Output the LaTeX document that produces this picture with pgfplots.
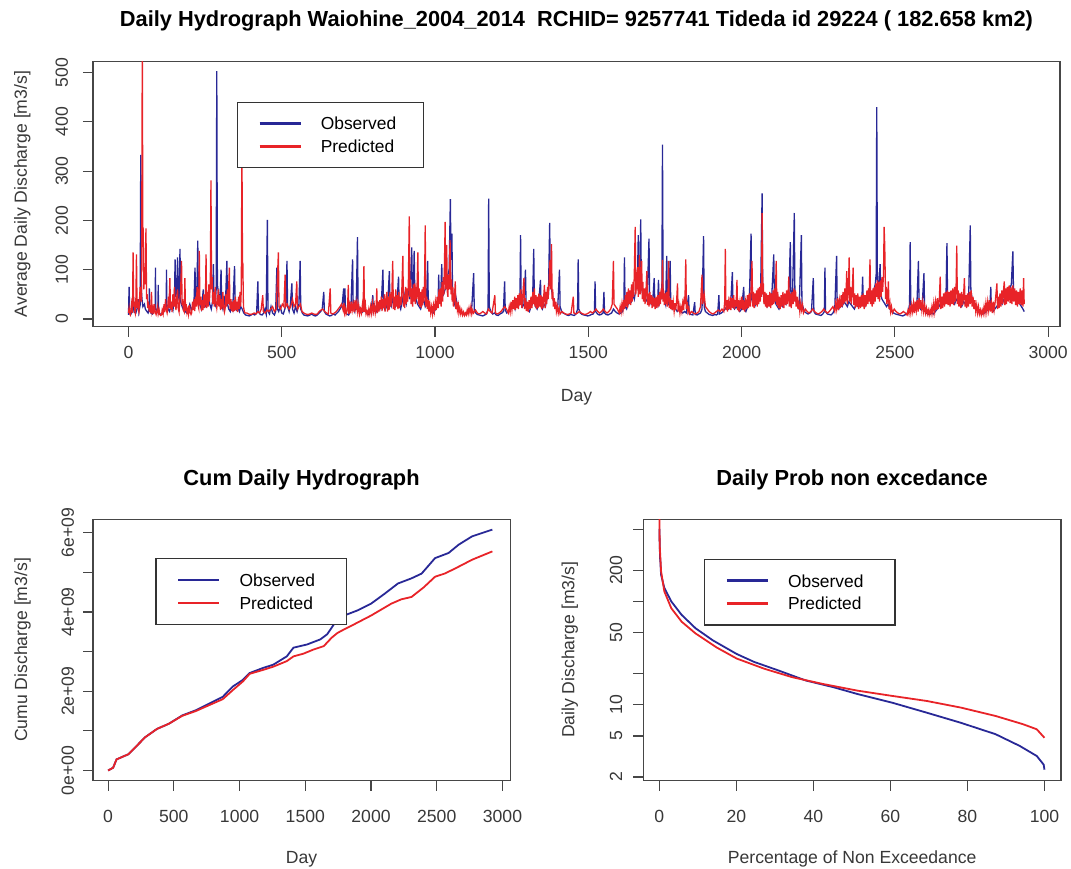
\documentclass[border=0pt]{standalone}
\usepackage{fontspec}
\setmainfont{Liberation Sans}
\usepackage{pgfplots}
\pgfplotsset{compat=1.18}
\definecolor{obs}{RGB}{40,40,150}
\definecolor{pred}{RGB}{232,35,40}
\definecolor{frame}{RGB}{70,70,70}
\pgfplotsset{
  rpanel/.style={
    scale only axis, anchor=south west,
    axis line style={draw=frame, line width=0.6pt},
    tick style={draw=frame, line width=0.6pt},
    tick align=outside, major tick length=5pt,
    xtick pos=left, ytick pos=left,
    /pgf/number format/assume math mode=true,
    /pgf/number format/1000 sep={},
    ticklabel style={font=\fontsize{8.8}{10}\selectfont, text=black!78},
    label style={font=\fontsize{8.8}{10}\selectfont, text=black!78},
    title style={font=\fontsize{10.9}{12}\selectfont\bfseries, anchor=base},
    legend image code/.code={\draw[#1, line width=1.3pt] (0pt,0pt) -- (20.5pt,0pt);},
    legend style={anchor=north west, draw=black!80, line width=0.6pt, fill=white,
      inner xsep=10.5pt, inner ysep=5pt, row sep=0pt,
      font=\fontsize{8.7}{10}\selectfont,
      nodes={inner sep=0pt, minimum height=11.4pt, text depth=0pt},
      /tikz/every odd column/.append style={column sep=9.5pt}},
    legend cell align=left,
  }
}
\begin{document}
\begin{tikzpicture}
\path[use as bounding box] (0,0) rectangle (535.5pt,434pt);
% ---------------- top hydrograph ----------------
\begin{axis}[rpanel,
  at={(46.5pt,270.6pt)}, width=483.5pt, height=132.75pt,
  xmin=-115.8, xmax=3038.8, ymin=-16, ymax=523,
  xtick={0,500,1000,1500,2000,2500,3000}, ytick={0,100,200,300,400,500},
  xticklabel style={yshift=-1pt},
  yticklabel style={xshift=-4pt, rotate=90, anchor=south},
  title={Daily Hydrograph Waiohine\_2004\_2014\ \ RCHID= 9257741 Tideda id 29224 ( 182.658 km2)},
  title style={at={(axis description cs:0.5,1.085)}, anchor=base},
  xlabel={Day}, xlabel style={at={(axis description cs:0.5,-0.282)}, anchor=base},
  ylabel={Average Daily Discharge [m3/s]},
  ylabel style={at={(axis description cs:-0.0683,0.5)}, rotate=0, anchor=base},
  legend style={at={(0.1485,0.8485)}},
]
\addplot[obs, line width=0.65pt] coordinates {
(0,8) (2,65) (4,12) (8,10) (14,20) (16,45) (18,14) (24,12) (30,25) (32,40) (34,15) (38,28) (40,333) (42,60) (44,40) (47,25) (52,30) (55,20) (60,15) (64,12) (67,20) (68,62) (69,18) (73,12) (78,10) (82,15) (87,20) (88,104) (89,22) (93,14) (96,20) (97,69) (98,15) (103,10) (108,9) (113,12) (118,18) (123,25) (124,100) (125,30) (129,20) (134,15) (140,30) (145,18) (150,40) (152,121) (154,45) (158,60) (160,125) (162,50) (165,40) (168,142) (170,35) (175,25) (180,18) (185,15) (190,12) (195,20) (200,30) (205,18) (210,25) (214,40) (217,104) (219,35) (223,50) (226,159) (228,40) (232,30) (238,20) (244,60) (246,35) (250,25) (255,30) (260,45) (265,30) (270,20) (274,35) (277,111) (279,40) (283,30) (286,60) (288,503) (290,70) (294,50) (298,30) (302,100) (304,30) (308,20) (313,40) (316,25) (321,118) (323,30) (327,20) (332,15) (336,30) (340,20) (346,107) (348,25) (352,18) (357,22) (362,15) (366,25) (371,20) (376,12) (382,8) (388,7) (394,6) (400,8) (406,10) (412,8) (418,12) (422,76) (424,14) (430,9) (436,8) (441,12) (445,20) (449,10) (453,201) (455,15) (460,10) (465,25) (470,12) (476,8) (480,15) (484,104) (486,20) (490,15) (495,25) (500,12) (505,10) (510,20) (514,35) (517,118) (519,25) (524,15) (528,30) (533,72) (535,20) (540,12) (545,25) (550,15) (556,30) (560,118) (562,20) (567,12) (572,8) (578,7) (585,6) (592,8) (598,10) (604,7) (610,6) (616,8) (622,12) (627,15) (632,20) (637,55) (639,15) (644,10) (650,8) (656,6) (662,7) (668,10) (674,8) (680,12) (685,15) (690,20) (695,25) (698,35) (702,62) (704,20) (706,62) (708,15) (712,10) (718,8) (722,12) (726,30) (731,121) (733,25) (738,15) (743,30) (747,166) (749,30) (754,18) (760,12) (765,15) (770,20) (776,12) (782,9) (787,12) (792,20) (797,48) (799,15) (804,25) (810,15) (815,30) (820,20) (825,35) (830,100) (832,25) (837,18) (842,25) (846,35) (851,97) (853,30) (857,25) (862,40) (866,30) (871,25) (876,35) (881,86) (883,30) (888,20) (893,35) (898,55) (902,40) (906,30) (910,45) (914,60) (918,40) (924,145) (926,60) (929,50) (932,138) (934,50) (938,40) (943,30) (948,25) (953,20) (958,30) (963,40) (968,25) (972,30) (976,118) (978,30) (983,20) (988,15) (994,12) (1000,18) (1005,25) (1010,35) (1012,90) (1014,35) (1018,40) (1022,111) (1024,45) (1028,50) (1033,60) (1038,80) (1042,90) (1046,100) (1050,243) (1052,120) (1055,173) (1057,60) (1060,40) (1064,30) (1068,45) (1072,30) (1077,20) (1082,15) (1087,12) (1092,10) (1098,9) (1104,12) (1110,20) (1115,15) (1120,25) (1126,93) (1128,20) (1133,12) (1138,9) (1144,8) (1150,7) (1156,6) (1162,8) (1168,10) (1173,20) (1175,244) (1177,25) (1182,15) (1188,10) (1194,12) (1200,8) (1206,7) (1212,10) (1218,12) (1223,15) (1227,76) (1229,18) (1234,12) (1240,15) (1246,20) (1251,25) (1256,30) (1261,20) (1266,35) (1272,25) (1277,40) (1279,170) (1281,40) (1286,25) (1290,30) (1295,100) (1297,30) (1302,20) (1308,15) (1313,25) (1318,30) (1322,142) (1324,35) (1328,25) (1333,20) (1338,30) (1344,79) (1346,25) (1350,20) (1355,30) (1360,25) (1365,40) (1370,50) (1374,195) (1376,80) (1380,60) (1385,40) (1390,30) (1395,25) (1400,20) (1406,100) (1408,25) (1413,15) (1418,12) (1424,10) (1430,8) (1436,7) (1442,9) (1448,8) (1454,7) (1460,10) (1465,20) (1467,121) (1469,20) (1474,12) (1480,9) (1486,8) (1492,7) (1498,6) (1504,7) (1510,9) (1516,10) (1520,15) (1522,76) (1524,15) (1530,10) (1536,8) (1542,9) (1548,12) (1551,55) (1553,12) (1558,9) (1564,8) (1570,10) (1576,12) (1582,20) (1588,15) (1594,12) (1600,10) (1606,12) (1612,15) (1616,30) (1618,125) (1620,25) (1625,20) (1630,30) (1635,40) (1640,35) (1645,50) (1650,40) (1655,60) (1660,70) (1663,170) (1665,60) (1668,80) (1671,202) (1673,70) (1677,50) (1682,40) (1687,35) (1692,40) (1698,163) (1700,40) (1705,30) (1710,35) (1715,83) (1717,30) (1722,25) (1726,30) (1729,79) (1731,30) (1736,40) (1740,60) (1742,354) (1744,60) (1748,40) (1752,30) (1756,128) (1758,35) (1762,30) (1767,118) (1769,30) (1774,20) (1779,25) (1785,20) (1790,15) (1796,20) (1802,15) (1808,12) (1814,15) (1820,12) (1827,48) (1829,10) (1835,9) (1841,8) (1847,34) (1849,9) (1855,8) (1860,10) (1866,12) (1871,20) (1876,168) (1878,25) (1882,15) (1888,12) (1894,9) (1900,8) (1906,7) (1912,9) (1918,8) (1922,10) (1926,48) (1928,10) (1934,12) (1940,15) (1946,20) (1952,25) (1958,20) (1964,25) (1970,95) (1972,25) (1977,20) (1982,25) (1988,20) (1994,15) (2000,20) (2007,65) (2009,20) (2014,15) (2020,25) (2025,30) (2031,173) (2033,40) (2038,30) (2043,25) (2048,35) (2052,30) (2057,40) (2062,50) (2067,255) (2069,60) (2073,40) (2078,30) (2083,25) (2088,35) (2093,30) (2098,40) (2105,131) (2107,40) (2112,30) (2117,25) (2122,20) (2128,30) (2134,25) (2140,35) (2145,30) (2150,45) (2154,40) (2159,156) (2161,50) (2166,40) (2172,215) (2174,50) (2178,35) (2183,25) (2188,20) (2195,170) (2197,30) (2200,25) (2205,15) (2211,12) (2217,10) (2223,12) (2228,15) (2234,83) (2236,15) (2241,10) (2247,9) (2253,8) (2259,7) (2265,10) (2270,15) (2272,104) (2274,15) (2280,10) (2286,9) (2292,8) (2298,12) (2304,20) (2310,128) (2312,25) (2317,20) (2322,30) (2328,25) (2334,35) (2340,30) (2345,25) (2350,35) (2356,30) (2362,25) (2368,20) (2374,30) (2380,25) (2386,35) (2392,30) (2395,86) (2397,30) (2402,25) (2408,35) (2414,40) (2420,50) (2425,45) (2430,55) (2436,70) (2439,90) (2441,430) (2443,80) (2447,60) (2452,111) (2454,50) (2458,40) (2463,35) (2468,30) (2473,25) (2478,30) (2484,20) (2490,15) (2496,12) (2502,10) (2508,9) (2514,8) (2520,7) (2526,6) (2532,8) (2538,10) (2544,15) (2548,30) (2550,156) (2552,30) (2557,20) (2562,25) (2567,20) (2572,30) (2577,118) (2579,30) (2584,20) (2589,25) (2595,93) (2597,20) (2602,12) (2608,10) (2614,9) (2620,12) (2626,10) (2632,15) (2638,20) (2644,25) (2648,30) (2652,25) (2657,30) (2662,40) (2667,50) (2670,154) (2672,40) (2676,35) (2680,30) (2685,40) (2690,35) (2695,30) (2700,40) (2706,35) (2712,30) (2718,25) (2724,35) (2730,30) (2736,40) (2741,50) (2746,190) (2748,60) (2752,40) (2757,30) (2762,25) (2768,20) (2774,15) (2780,12) (2786,10) (2792,12) (2798,15) (2804,20) (2810,25) (2813,65) (2815,20) (2820,15) (2826,20) (2832,25) (2838,30) (2844,35) (2850,30) (2856,40) (2862,45) (2868,50) (2874,60) (2880,70) (2885,137) (2887,60) (2892,50) (2897,40) (2902,35) (2908,30) (2913,25) (2918,20) (2922,15)
};
\addlegendentry{\makebox[41pt][l]{Observed}}
\addplot[pred, line width=0.65pt] coordinates {
(0,12) (2,22) (4,10) (6,8) (8,18) (10,30) (12,20) (13,12) (15,135) (17,25) (19,35) (21,15) (22,12) (24,35) (26,131) (28,22) (30,40) (32,18) (34,14) (36,40) (38,65) (40,50) (42,35) (43,120) (45,560) (47,150) (48,184) (50,60) (52,95) (54,70) (57,184) (59,40) (61,50) (63,22) (65,35) (68,15) (70,28) (72,12) (75,55) (77,14) (80,22) (82,10) (85,30) (87,15) (90,9) (92,14) (95,25) (97,10) (100,18) (102,9) (105,7) (108,9) (110,18) (113,10) (116,30) (118,14) (121,40) (123,20) (126,12) (128,20) (130,45) (132,22) (135,83) (137,20) (140,35) (142,14) (145,50) (148,25) (150,65) (152,35) (155,18) (157,40) (160,60) (162,22) (165,14) (167,35) (170,55) (173,118) (175,28) (177,40) (179,18) (182,14) (184,83) (186,16) (188,30) (191,12) (194,20) (196,10) (199,28) (201,14) (204,9) (206,12) (209,35) (211,18) (214,40) (216,16) (219,45) (221,25) (224,65) (226,30) (229,22) (231,138) (233,28) (236,45) (238,16) (241,38) (243,18) (246,50) (248,22) (251,40) (253,131) (255,22) (258,55) (260,25) (262,70) (264,35) (267,75) (269,281) (271,60) (273,85) (275,30) (278,55) (280,25) (283,65) (285,35) (288,22) (290,35) (293,60) (295,25) (298,48) (300,18) (303,40) (305,20) (308,55) (310,28) (313,14) (315,20) (318,50) (320,25) (323,60) (325,30) (329,104) (331,20) (334,40) (336,16) (339,35) (341,14) (344,38) (346,16) (349,45) (351,18) (354,35) (356,14) (359,45) (361,20) (364,55) (366,25) (368,60) (370,354) (372,100) (373,114) (375,25) (378,15) (380,12)
(386,12) (392,10) (398,9) (404,10) (410,12) (416,10) (422,15) (428,12) (433,20) (438,48) (440,15) (446,12) (452,18) (458,15) (464,20) (470,25) (476,15) (482,20) (489,135) (491,25) (496,20) (502,30) (507,25) (511,90) (513,25) (518,30) (524,20) (529,25) (535,40) (540,25) (545,30) (549,76) (551,20) (556,25) (561,30) (566,15) (572,12) (578,10) (585,9) (592,10) (598,12) (604,10) (610,9) (616,10) (622,15) (628,18) (634,20) (640,15) (646,12) (652,10) (658,62) (660,12) (666,10) (672,12) (678,15) (684,20) (690,25) (695,30)
(700,18) (703,32) (705,12) (708,20) (710,10) (713,16) (715,28) (717,69) (719,10) (722,25) (724,12) (727,35) (730,18) (733,30) (736,14) (739,38) (742,20) (745,35) (748,14) (751,28) (754,10) (757,20) (760,12) (763,28) (765,14) (768,107) (770,14) (773,28) (775,10) (778,16) (781,8) (784,20) (787,10) (790,25) (793,12) (796,32) (799,15) (802,28) (805,12) (808,25) (810,62) (812,12) (815,35) (817,15) (820,38) (822,20) (825,45) (827,16) (830,40) (832,22) (835,50) (837,15) (840,38) (843,55) (845,15) (848,45) (850,18) (853,55) (856,25) (859,48) (862,118) (864,20) (867,45) (869,18) (872,60) (874,25) (877,48) (879,20) (882,55) (884,22) (887,45) (889,28) (892,65) (895,128) (897,25) (899,50) (901,22) (904,65) (906,30) (909,62) (911,35) (913,75) (916,208) (918,45) (920,80) (922,30) (925,62) (927,25) (929,70) (931,35) (934,72) (936,30) (938,65) (940,40) (942,80) (944,135) (946,30) (948,62) (950,25) (953,55) (955,22) (958,60) (960,28) (962,65) (964,35) (966,80) (968,190) (970,25) (973,45) (975,20) (978,38) (980,15) (983,30) (986,12) (989,25) (992,10) (995,28) (998,15) (1001,35) (1004,18) (1007,45) (1010,22) (1013,60) (1015,30) (1018,62) (1020,25) (1023,75) (1025,35) (1027,85) (1029,50) (1031,120) (1033,197) (1035,60) (1038,150) (1040,55) (1042,45) (1044,90) (1046,60) (1049,160) (1052,50) (1054,80) (1056,35) (1058,65) (1060,25) (1063,40) (1066,76) (1068,20) (1071,35) (1073,18) (1076,28) (1078,12) (1081,22) (1084,10) (1087,18) (1090,8) (1093,14) (1096,7) (1099,12) (1102,8) (1105,18) (1108,10) (1111,22) (1114,12) (1117,25) (1120,10) (1123,18) (1126,12)
(1132,18) (1138,12) (1144,10) (1150,12) (1156,15) (1162,12) (1168,10) (1174,20) (1180,15) (1186,12) (1195,48) (1197,12) (1203,10) (1209,12) (1215,15) (1221,20) (1227,25) (1233,20)
(1239,12) (1242,25) (1245,14) (1248,35) (1251,18) (1254,38) (1257,20) (1260,45) (1262,18) (1265,42) (1267,22) (1270,48) (1272,20) (1275,52) (1277,28) (1280,60) (1283,22) (1286,45) (1290,83) (1292,20) (1295,42) (1298,16) (1301,35) (1304,14) (1307,38) (1310,20) (1313,45) (1316,22) (1319,55) (1322,30) (1324,62) (1326,25) (1329,48) (1331,20) (1334,45) (1336,22) (1339,52) (1342,25) (1345,48) (1348,20) (1350,45) (1352,22) (1357,69) (1359,22) (1362,55) (1364,30) (1367,65) (1369,40) (1372,75) (1375,120) (1377,60) (1380,152) (1382,40) (1384,60) (1386,25) (1389,42) (1391,20) (1394,35) (1396,15) (1399,25) (1402,12) (1405,22) (1408,10)
(1414,15) (1420,12) (1426,10) (1432,9) (1438,10) (1444,12) (1451,45) (1453,12) (1459,10) (1465,12) (1471,15) (1477,12) (1483,10) (1489,9) (1495,10) (1501,12) (1507,15) (1513,12) (1519,15) (1525,20) (1531,15) (1537,12) (1543,15) (1549,20) (1555,15) (1561,12) (1567,15) (1573,20) (1578,30) (1582,118) (1584,30) (1589,25) (1595,20)
(1601,12) (1604,25) (1607,14) (1610,32) (1613,18) (1616,38) (1618,20) (1621,48) (1623,25) (1626,55) (1628,22) (1631,62) (1633,30) (1636,58) (1638,28) (1641,70) (1643,35) (1646,75) (1648,45) (1650,90) (1653,187) (1655,50) (1657,95) (1659,60) (1661,105) (1663,45) (1665,85) (1667,130) (1669,50) (1671,70) (1674,118) (1676,40) (1678,75) (1680,35) (1683,62) (1685,30) (1688,55) (1691,97) (1693,28) (1696,52) (1698,25) (1701,55) (1703,30) (1706,48) (1708,22) (1711,45) (1713,25) (1716,42) (1718,20) (1721,45) (1724,22) (1727,48) (1730,25) (1733,55) (1735,30) (1738,62) (1740,40) (1742,120) (1744,35) (1746,58) (1748,28) (1751,52) (1753,30) (1755,55) (1757,25) (1760,45) (1762,118) (1764,22) (1767,42) (1769,20) (1772,38) (1774,18) (1777,35) (1780,15) (1783,32) (1785,18) (1788,35) (1791,72) (1793,15) (1796,28) (1799,12) (1802,25) (1805,15) (1808,32) (1811,18) (1813,45) (1815,30) (1818,121) (1820,20) (1823,35) (1825,15) (1828,22) (1831,10)
(1837,15) (1843,12) (1849,10) (1855,12) (1861,15) (1866,25) (1871,90) (1873,30) (1878,50) (1882,25) (1888,20) (1894,15) (1900,12) (1906,10) (1912,12) (1918,15) (1924,18) (1930,15) (1936,20)
(1942,15) (1945,35) (1947,142) (1949,18) (1952,38) (1954,15) (1957,35) (1960,20) (1963,45) (1965,18) (1968,42) (1971,22) (1974,48) (1977,20) (1980,38) (1982,25) (1985,79) (1987,18) (1990,38) (1992,15) (1995,35) (1998,20) (2001,45) (2004,18) (2007,38) (2010,15) (2013,35) (2016,20) (2019,48) (2022,22) (2025,52) (2028,25) (2031,60) (2034,118) (2036,25) (2039,55) (2041,22) (2044,52) (2046,28) (2049,58) (2051,25) (2054,62) (2056,30) (2059,65) (2061,35) (2063,72) (2065,45) (2067,215) (2069,50) (2071,72) (2073,30) (2076,55) (2078,25) (2081,52) (2083,22) (2086,48) (2089,25) (2092,55) (2095,22) (2098,52) (2100,28) (2103,58) (2105,30) (2108,62) (2110,35) (2113,118) (2115,28) (2118,55) (2120,22) (2123,45) (2126,20) (2129,48) (2132,25) (2135,55) (2138,22) (2141,52) (2144,28) (2147,58) (2149,30) (2152,45) (2154,86) (2156,25) (2159,52) (2162,22) (2165,55) (2168,30) (2171,62) (2173,35) (2176,58) (2178,25) (2181,45) (2184,20) (2187,35) (2190,15) (2193,32) (2196,18) (2199,28) (2202,12)
(2208,20) (2214,15) (2220,12) (2226,15) (2232,20) (2238,15) (2244,12) (2250,10) (2256,12) (2262,15) (2268,20) (2274,15) (2280,12) (2286,15) (2292,20) (2298,25)
(2304,15) (2307,32) (2310,20) (2313,42) (2316,18) (2319,38) (2322,22) (2325,48) (2328,25) (2331,55) (2334,30) (2337,62) (2339,35) (2341,52) (2343,97) (2345,30) (2348,52) (2351,125) (2353,35) (2356,65) (2358,30) (2361,55) (2364,104) (2366,28) (2369,52) (2371,22) (2374,48) (2376,25) (2379,52) (2382,20) (2385,45) (2388,22) (2391,48) (2394,25) (2397,52) (2400,20) (2403,48) (2406,25) (2409,58) (2412,30) (2414,62) (2416,35) (2419,121) (2421,30) (2424,58) (2426,25) (2429,62) (2431,30) (2434,65) (2436,35) (2438,72) (2441,45) (2443,78) (2445,40) (2448,75) (2450,35) (2453,78) (2455,45) (2458,85) (2460,55) (2463,90) (2465,187) (2467,150) (2470,40) (2472,65) (2474,30) (2477,45) (2479,76) (2481,20) (2484,32) (2486,15) (2489,25) (2492,12)
(2498,20) (2504,15) (2510,12) (2516,10) (2522,12) (2528,15) (2534,12)
(2540,8) (2543,18) (2546,10) (2549,25) (2552,12) (2555,28) (2558,15) (2561,32) (2564,12) (2567,35) (2570,18) (2573,38) (2576,15) (2579,42) (2582,20) (2585,38) (2588,18) (2591,35) (2594,15) (2597,28) (2600,12) (2603,22) (2606,10) (2609,18) (2612,8) (2615,18) (2618,10) (2621,25) (2624,12) (2627,32) (2630,15) (2633,35) (2636,18) (2639,42) (2642,20) (2645,38) (2648,86) (2650,20) (2653,45) (2656,22) (2659,52) (2662,25) (2665,55) (2668,30) (2671,58) (2674,28) (2677,55) (2680,25) (2683,58) (2686,30) (2689,62) (2692,28) (2695,65) (2697,35) (2700,72) (2702,149) (2704,30) (2707,58) (2709,25) (2712,52) (2715,22) (2718,55) (2721,28) (2724,45) (2727,83) (2729,25) (2732,48) (2734,22) (2737,52) (2740,25) (2743,55) (2746,30) (2749,58) (2752,25) (2755,45) (2758,20) (2761,38) (2764,15) (2767,28) (2770,12) (2773,25) (2776,10) (2779,18) (2782,8) (2785,18) (2788,10) (2791,25) (2794,12) (2797,32) (2800,15) (2803,35) (2806,18) (2809,38) (2812,15) (2815,32) (2818,12) (2821,35) (2824,18) (2828,38) (2833,72) (2835,20) (2838,45) (2840,22) (2843,52) (2846,25) (2849,58) (2852,30) (2855,62) (2857,76) (2859,28) (2862,62) (2864,30) (2867,65) (2870,35) (2873,68) (2876,32) (2879,65) (2882,30) (2885,68) (2888,35) (2891,62) (2894,28) (2897,58) (2900,25) (2903,55) (2906,30) (2909,62) (2912,28) (2915,58) (2918,25) (2920,83) (2922,30)
};
\addlegendentry{\makebox[41pt][l]{Predicted}}
\end{axis}
% ---------------- cumulative ----------------
\begin{axis}[rpanel,
  at={(46.5pt,43.7pt)}, width=208.55pt, height=130.65pt,
  xmin=-115, xmax=3058, ymin=-0.255, ymax=6.34,
  xtick={0,500,1000,1500,2000,2500,3000},
  ytick={0,1,2,3,4,5,6}, yticklabels={0e+00,,2e+09,,4e+09,,6e+09},
  xticklabel style={yshift=-6.5pt},
  yticklabel style={xshift=-1pt, rotate=90, anchor=south},
  title={Cum Daily Hydrograph},
  title style={at={(axis description cs:0.5,1.085)}, anchor=base},
  xlabel={Day}, xlabel style={at={(axis description cs:0.5,-0.316)}, anchor=base},
  ylabel={Cumu Discharge [m3/s]},
  ylabel style={at={(axis description cs:-0.158,0.5)}, rotate=0, anchor=base},
  legend style={at={(0.1496,0.8515)}},
]
\addplot[obs, line width=0.9pt] coordinates {
(0,0) (38,0.07) (64,0.28) (154,0.41) (205,0.58) (282,0.84) (372,1.05) (462,1.18) (564,1.39) (667,1.52) (769,1.69) (872,1.86) (949,2.12) (1026,2.29) (1077,2.46) (1180,2.59) (1256,2.67) (1359,2.88) (1410,3.10) (1513,3.18) (1615,3.31) (1667,3.44) (1718,3.69) (1795,3.91) (1897,4.04) (2000,4.21) (2103,4.46) (2205,4.72) (2308,4.85) (2385,4.97) (2487,5.36) (2590,5.49) (2667,5.70) (2769,5.91) (2923,6.08)
};
\addlegendentry{\makebox[43pt][l]{Observed}}
\addplot[pred, line width=0.9pt] coordinates {
(0,0) (38,0.07) (64,0.28) (154,0.41) (205,0.58) (282,0.84) (372,1.05) (462,1.18) (564,1.38) (667,1.50) (769,1.65) (872,1.80) (949,2.03) (1026,2.25) (1077,2.44) (1180,2.54) (1256,2.62) (1359,2.76) (1410,2.88) (1487,2.95) (1560,3.05) (1641,3.14) (1700,3.35) (1744,3.47) (1800,3.57) (1872,3.69) (2000,3.91) (2154,4.21) (2230,4.32) (2308,4.38) (2400,4.62) (2487,4.89) (2560,4.97) (2641,5.10) (2769,5.32) (2923,5.53)
};
\addlegendentry{\makebox[43pt][l]{Predicted}}
\end{axis}
% ---------------- flow duration ----------------
\begin{axis}[rpanel,
  at={(321.65pt,43.7pt)}, width=208.85pt, height=130.65pt,
  ymode=log,
  xmin=-4.16, xmax=104.3, ymin=1.85, ymax=622,
  xtick={0,20,40,60,80,100},
  ytick={2,5,10,20,50,100,200,500}, yticklabels={2,5,10,,50,,200,},
  xticklabel style={yshift=-6.5pt},
  yticklabel style={xshift=-2pt, rotate=90, anchor=south},
  title={Daily Prob non excedance},
  title style={at={(axis description cs:0.5,1.085)}, anchor=base},
  xlabel={Percentage of Non Exceedance}, xlabel style={at={(axis description cs:0.5,-0.316)}, anchor=base},
  ylabel={Daily Discharge [m3/s]},
  ylabel style={at={(axis description cs:-0.165,0.5)}, rotate=0, anchor=base},
  legend style={at={(0.145,0.849)}},
]
\addplot[obs, line width=0.9pt] coordinates {
(0.03,503) (0.1,350) (0.2,260) (0.27,245) (0.45,181) (1.3,135) (3.1,100) (5.8,74) (9.4,55) (13.9,42) (20.1,31) (24.6,26) (30.9,21.5) (38.0,17.2) (45.2,14.8) (51.5,12.7) (60.4,10.5) (69.4,8.4) (78.3,6.7) (87.3,5.2) (93.6,4.0) (98.0,3.2) (99.8,2.64) (100,2.36)
};
\addlegendentry{\makebox[43pt][l]{Observed}}
\addplot[pred, line width=0.9pt] coordinates {
(0,900) (0.09,356) (0.45,196) (1.3,125) (3.1,86) (5.8,63.6) (9.4,49) (14.8,36) (20.1,28) (27.3,22.3) (34.5,18.5) (42.5,15.9) (51.5,13.7) (60.4,12.2) (69.4,10.9) (78.3,9.4) (87.3,7.8) (94.4,6.5) (98.0,5.8) (100,4.8)
};
\addlegendentry{\makebox[43pt][l]{Predicted}}
\end{axis}
\end{tikzpicture}
\end{document}
